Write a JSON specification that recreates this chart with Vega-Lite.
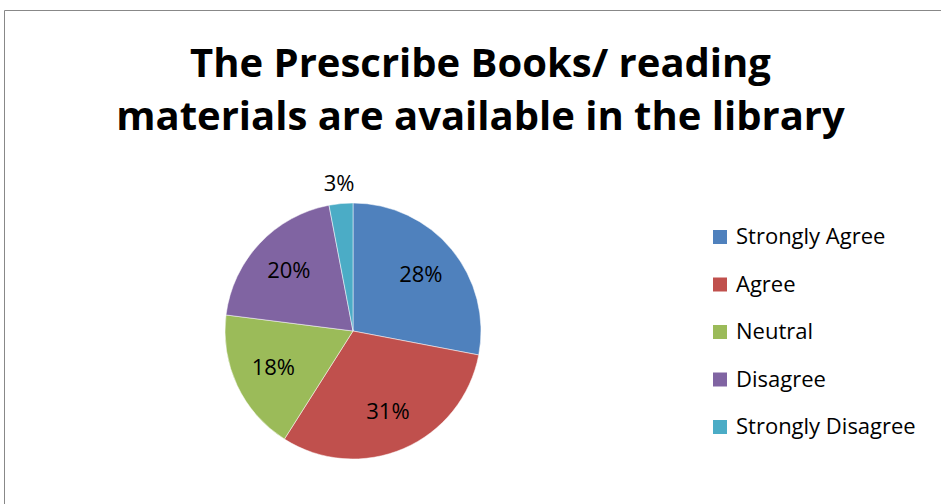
{
  "$schema": "https://vega.github.io/schema/vega-lite/v6.json",
  "autosize": {"type": "none"},
  "width": 939,
  "height": 496,
  "padding": {"left": 4, "top": 10, "right": -2, "bottom": -2},
  "background": "white",
  "view": {"stroke": "#888888", "strokeWidth": 1},
  "config": {
    "view": {"stroke": "#888888", "strokeWidth": 1},
    "font": "Open Sans"
  },
  "title": {
    "text": ["The Prescribe Books/ reading", "materials are available in the library"],
    "font": "Open Sans",
    "fontSize": 40,
    "fontWeight": "bold",
    "color": "black",
    "lineHeight": 53,
    "anchor": "middle",
    "frame": "group",
    "baseline": "alphabetic",
    "offset": 0,
    "dx": 7,
    "dy": 160
  },
  "data": {
    "values": [
      {"Response": "Strongly Agree", "Share": 0.28, "idx": 1},
      {"Response": "Agree", "Share": 0.31, "idx": 2},
      {"Response": "Neutral", "Share": 0.18, "idx": 3},
      {"Response": "Disagree", "Share": 0.20, "idx": 4},
      {"Response": "Strongly Disagree", "Share": 0.03, "idx": 5}
    ]
  },
  "encoding": {
    "theta": {"field": "Share", "type": "quantitative", "stack": true},
    "order": {"field": "idx", "type": "quantitative"}
  },
  "layer": [
    {
      "mark": {"type": "arc", "outerRadius": 128, "x": 349, "y": 321, "stroke": "white", "strokeWidth": 0.5},
      "encoding": {
        "color": {
          "field": "Response",
          "type": "nominal",
          "sort": ["Strongly Agree", "Agree", "Neutral", "Disagree", "Strongly Disagree"],
          "scale": {
            "domain": ["Strongly Agree", "Agree", "Neutral", "Disagree", "Strongly Disagree"],
            "range": ["#4f81bd", "#c0504d", "#9bbb59", "#8064a2", "#4bacc6"]
          },
          "legend": {
            "title": null,
            "orient": "none",
            "legendX": 705,
            "legendY": 216,
            "symbolType": "square",
            "symbolSize": 196,
            "symbolStrokeWidth": 0,
            "symbolOpacity": 1,
            "labelFont": "Open Sans",
            "labelFontSize": 22,
            "labelColor": "black",
            "labelOffset": 5,
            "rowPadding": 25.5,
            "padding": 0,
            "labelLimit": 300
          }
        }
      }
    },
    {
      "mark": {
        "type": "text",
        "x": 349,
        "y": 321,
        "radius": {"expr": "datum.Response === 'Strongly Disagree' ? 148 : 88"},
        "font": "Open Sans",
        "fontSize": 22,
        "color": "black"
      },
      "encoding": {
        "text": {"field": "Share", "type": "quantitative", "format": ".0%"},
        "detail": {"field": "Response", "type": "nominal"}
      }
    }
  ]
}
